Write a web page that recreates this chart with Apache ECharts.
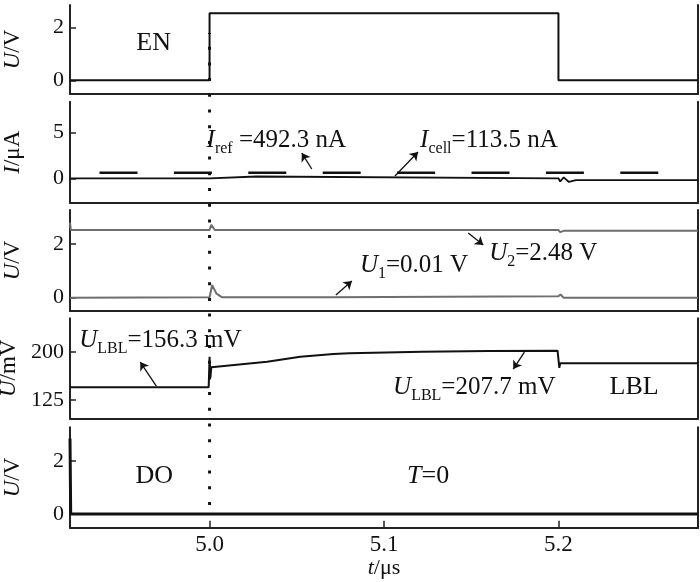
<!DOCTYPE html>
<html><head><meta charset="utf-8">
<script src="https://cdn.jsdelivr.net/npm/echarts@6/dist/echarts.min.js"></script>
<style>html,body{margin:0;padding:0;background:#fff}#c{width:700px;height:582px}</style>
</head><body><div id="c"></div>
<script>
// ---------- data ----------
const tMin = 4.92, tMax = 5.28;
const xTicks = [5.0, 5.1, 5.2];
const enTicks = [0, 2];
const iTicks = [0, 5];
const uTicks = [0, 2];
const lblTicks = [125, 200];
const doTicks = [0, 2];

const enT = [4.92, 5.0, 5.0, 5.2, 5.2, 5.28];
const enV = [0, 0, 2.55, 2.55, 0, 0];

const irefT = [4.92, 5.275];
const irefV = [0.6, 0.6];
const icellT = [4.92, 5.0, 5.0, 5.027, 5.027, 5.2, 5.201, 5.203, 5.206, 5.21, 5.28];
const icellV = [0, 0, 0.2, 0.2, 0, 0, -0.35, 0.1, -0.4, -0.2, -0.2];

const u2T = [4.92, 4.9205, 5.0, 5.001, 5.003, 5.2, 5.201, 5.203, 5.28];
const u2V = [2.8, 2.52, 2.52, 2.71, 2.52, 2.52, 2.44, 2.49, 2.49];
const u1T = [4.92, 5.0, 5.0015, 5.004, 5.007, 5.069, 5.0695, 5.2, 5.2012, 5.203, 5.28];
const u1V = [0.0, 0.02, 0.47, 0.15, 0.02, 0.02, 0.05, 0.05, 0.12, 0.0, 0.0];

const lblT = [4.92, 4.9995, 5.0, 5.0005, 5.001, 5.002, 5.033, 5.052, 5.071, 5.08, 5.122, 5.16, 5.1995, 5.2, 5.2005, 5.201, 5.28];
const lblV = [145, 145, 192, 160, 176, 174.2, 184.5, 192.2, 196.4, 197.5, 200, 201, 201.6, 201.6, 175, 182, 182];

const doT = [4.92, 4.9202, 4.9204, 5.28];
const doV = [2.85, 2.85, 0, 0];

const markerT = 5.0;

// ---------- helpers ----------
const FONT = "'Liberation Serif','Times New Roman',serif";
const zip = (t, v) => t.map((x, i) => [x, v[i]]);
const rich = {
  i: {fontFamily: FONT, fontStyle: 'italic', fontSize: 25, lineHeight: 34, color: '#111'},
  n: {fontFamily: FONT, fontSize: 25, lineHeight: 34, color: '#111'},
  b: {fontFamily: FONT, fontSize: 26, lineHeight: 34, color: '#111'},
  bi: {fontFamily: FONT, fontStyle: 'italic', fontSize: 26, lineHeight: 34, color: '#111'},
  s: {fontFamily: FONT, fontSize: 16, lineHeight: 14, verticalAlign: 'bottom', color: '#111'}
};
function labels(items) {
  return {
    symbol: 'circle', symbolSize: 0, silent: true,
    itemStyle: {color: 'rgba(0,0,0,0)'},
    label: {show: true, position: 'right', distance: 0, rich: rich},
    data: items.map(a => ({coord: [a.t, a.v], label: {formatter: a.text}}))
  };
}
function arrows(items) {
  return {
    symbol: ['none', 'arrow'], symbolSize: 8, silent: true, animation: false,
    lineStyle: {color: '#111', width: 1.3, type: 'solid'},
    label: {show: false},
    emphasis: {disabled: true},
    data: items.map(a => [{coord: [a.t1, a.v1]}, {coord: [a.t2, a.v2]}])
  };
}

const gridBase = {left: 70, right: 2, outerBoundsMode: 'none', containLabel: false};
const grids = [
  Object.assign({top: 5, height: 89}, gridBase),
  Object.assign({top: 101.7, height: 101}, gridBase),
  Object.assign({top: 210, height: 101}, gridBase),
  Object.assign({top: 318.3, height: 100}, gridBase),
  Object.assign({top: 427.3, height: 100.4}, gridBase),
  Object.assign({top: 5, height: 523}, gridBase)
];
const yRanges = [[-0.521, 2.863], [-2.675, 8.40], [-0.495, 3.266], [96.6, 251.9], [-0.52, 3.27]];
const yTickSets = [enTicks, iTicks, uTicks, lblTicks, doTicks];
const yNames = ['{i|U}/V', '{i|I}/μA', '{i|U}/V', '{i|U}/mV', '{i|U}/V'];
const axisCol = '#222';

const xAxes = [];
for (let i = 0; i < 5; i++) {
  const last = i === 4;
  xAxes.push({
    type: 'value', gridIndex: i, min: tMin, max: tMax,
    axisLine: {show: true, onZero: false, lineStyle: {color: axisCol, width: 2}},
    axisTick: {show: last, inside: true, length: 7, customValues: xTicks, lineStyle: {color: axisCol, width: 1.5}},
    axisLabel: {show: last, customValues: xTicks, formatter: v => v.toFixed(1), margin: 6,
      fontFamily: FONT, fontSize: 23, color: '#111'},
    splitLine: {show: false},
    name: last ? '{i|t}/μs' : '', nameLocation: 'middle', nameGap: 27,
    nameTextStyle: {fontFamily: FONT, fontSize: 22, color: '#111',
      rich: {i: {fontFamily: FONT, fontStyle: 'italic', fontSize: 22, color: '#111'}}}
  });
}
xAxes.push({type: 'value', gridIndex: 5, min: tMin, max: tMax, show: false});

const yAxes = [];
for (let i = 0; i < 5; i++) {
  yAxes.push({
    type: 'value', gridIndex: i, position: 'left', min: yRanges[i][0], max: yRanges[i][1],
    axisLine: {show: true, onZero: false, lineStyle: {color: axisCol, width: 2}},
    axisTick: {show: true, inside: true, length: 6, customValues: yTickSets[i], lineStyle: {color: axisCol, width: 1.5}},
    axisLabel: {show: true, customValues: yTickSets[i], margin: 6, fontFamily: FONT, fontSize: 22, color: '#111'},
    splitLine: {show: false},
    name: yNames[i], nameLocation: 'middle', nameGap: 46, nameRotate: 90,
    nameTextStyle: {fontFamily: FONT, fontSize: 23, color: '#111',
      rich: {i: {fontFamily: FONT, fontStyle: 'italic', fontSize: 23, color: '#111'}}}
  });
}
for (let i = 0; i < 5; i++) {
  yAxes.push({
    type: 'value', gridIndex: i, position: 'right', min: 0, max: 1,
    axisLine: {show: true, onZero: false, lineStyle: {color: axisCol, width: 2}},
    axisTick: {show: false}, axisLabel: {show: false}, splitLine: {show: false}
  });
}
yAxes.push({type: 'value', gridIndex: 5, min: 0, max: 1, show: false});

const base = {type: 'line', symbol: 'none', silent: true, animation: false};
const series = [
  Object.assign({}, base, {
    name: 'EN', xAxisIndex: 0, yAxisIndex: 0, data: zip(enT, enV),
    lineStyle: {color: '#111', width: 2},
    markPoint: labels([{t: 4.958, v: 1.42, text: '{b|EN}'}])
  }),
  Object.assign({}, base, {
    name: 'Iref', xAxisIndex: 1, yAxisIndex: 1, data: zip(irefT, irefV),
    lineStyle: {color: '#111', width: 2.5, type: [38, 36.4], dashOffset: 44.9}
  }),
  Object.assign({}, base, {
    name: 'Icell', xAxisIndex: 1, yAxisIndex: 1, data: zip(icellT, icellV),
    lineStyle: {color: '#111', width: 1.8},
    markPoint: labels([
      {t: 4.9983, v: 4.2, text: '{i|I}{s|ref}{n| =492.3 nA}'},
      {t: 5.1207, v: 4.2, text: '{i|I}{s|cell}{n|=113.5 nA}'}
    ]),
    markLine: arrows([
      {t1: 5.0586, v1: 1.02, t2: 5.0529, v2: 2.77},
      {t1: 5.1063, v1: 0.25, t2: 5.1195, v2: 2.88}
    ])
  }),
  Object.assign({}, base, {
    name: 'U2', xAxisIndex: 2, yAxisIndex: 2, data: zip(u2T, u2V),
    lineStyle: {color: '#6e6e6e', width: 2},
    markPoint: labels([
      {t: 5.1603, v: 1.66, text: '{i|U}{s|2}{n|=2.48 V}'},
      {t: 5.0862, v: 1.22, text: '{i|U}{s|1}{n|=0.01 V}'}
    ]),
    markLine: arrows([
      {t1: 5.1483, v1: 2.41, t2: 5.1569, v2: 1.96},
      {t1: 5.0724, v1: 0.10, t2: 5.0816, v2: 0.62}
    ])
  }),
  Object.assign({}, base, {
    name: 'U1', xAxisIndex: 2, yAxisIndex: 2, data: zip(u1T, u1V),
    lineStyle: {color: '#6e6e6e', width: 2}
  }),
  Object.assign({}, base, {
    name: 'LBL', xAxisIndex: 3, yAxisIndex: 3, data: zip(lblT, lblV),
    lineStyle: {color: '#111', width: 2},
    markPoint: labels([
      {t: 4.9253, v: 218.2, text: '{i|U}{s|LBL}{n|=156.3 mV}'},
      {t: 5.1052, v: 145.2, text: '{i|U}{s|LBL}{n|=207.7 mV}'},
      {t: 5.2293, v: 145.2, text: '{b|LBL}'}
    ]),
    markLine: arrows([
      {t1: 4.9695, v1: 146.7, t2: 4.9603, v2: 184},
      {t1: 5.1805, v1: 199.5, t2: 5.1741, v2: 173}
    ])
  }),
  Object.assign({}, base, {
    name: 'DO', xAxisIndex: 4, yAxisIndex: 4, data: zip(doT, doV),
    lineStyle: {color: '#111', width: 3},
    markPoint: labels([
      {t: 4.9575, v: 1.43, text: '{b|DO}'},
      {t: 5.1132, v: 1.43, text: '{bi|T}{b|=0}'}
    ])
  }),
  Object.assign({}, base, {
    name: 'marker', xAxisIndex: 5, yAxisIndex: 10,
    data: [[markerT, 0.044], [markerT, 0.9465]],
    lineStyle: {color: '#111', width: 3, type: [3, 12.7]},
    z: 5
  })
];

const chart = echarts.init(document.getElementById('c'), null, {renderer: 'canvas'});
chart.setOption({
  animation: false,
  backgroundColor: '#fff',
  grid: grids,
  xAxis: xAxes,
  yAxis: yAxes,
  series: series
});
</script>
</body></html>
